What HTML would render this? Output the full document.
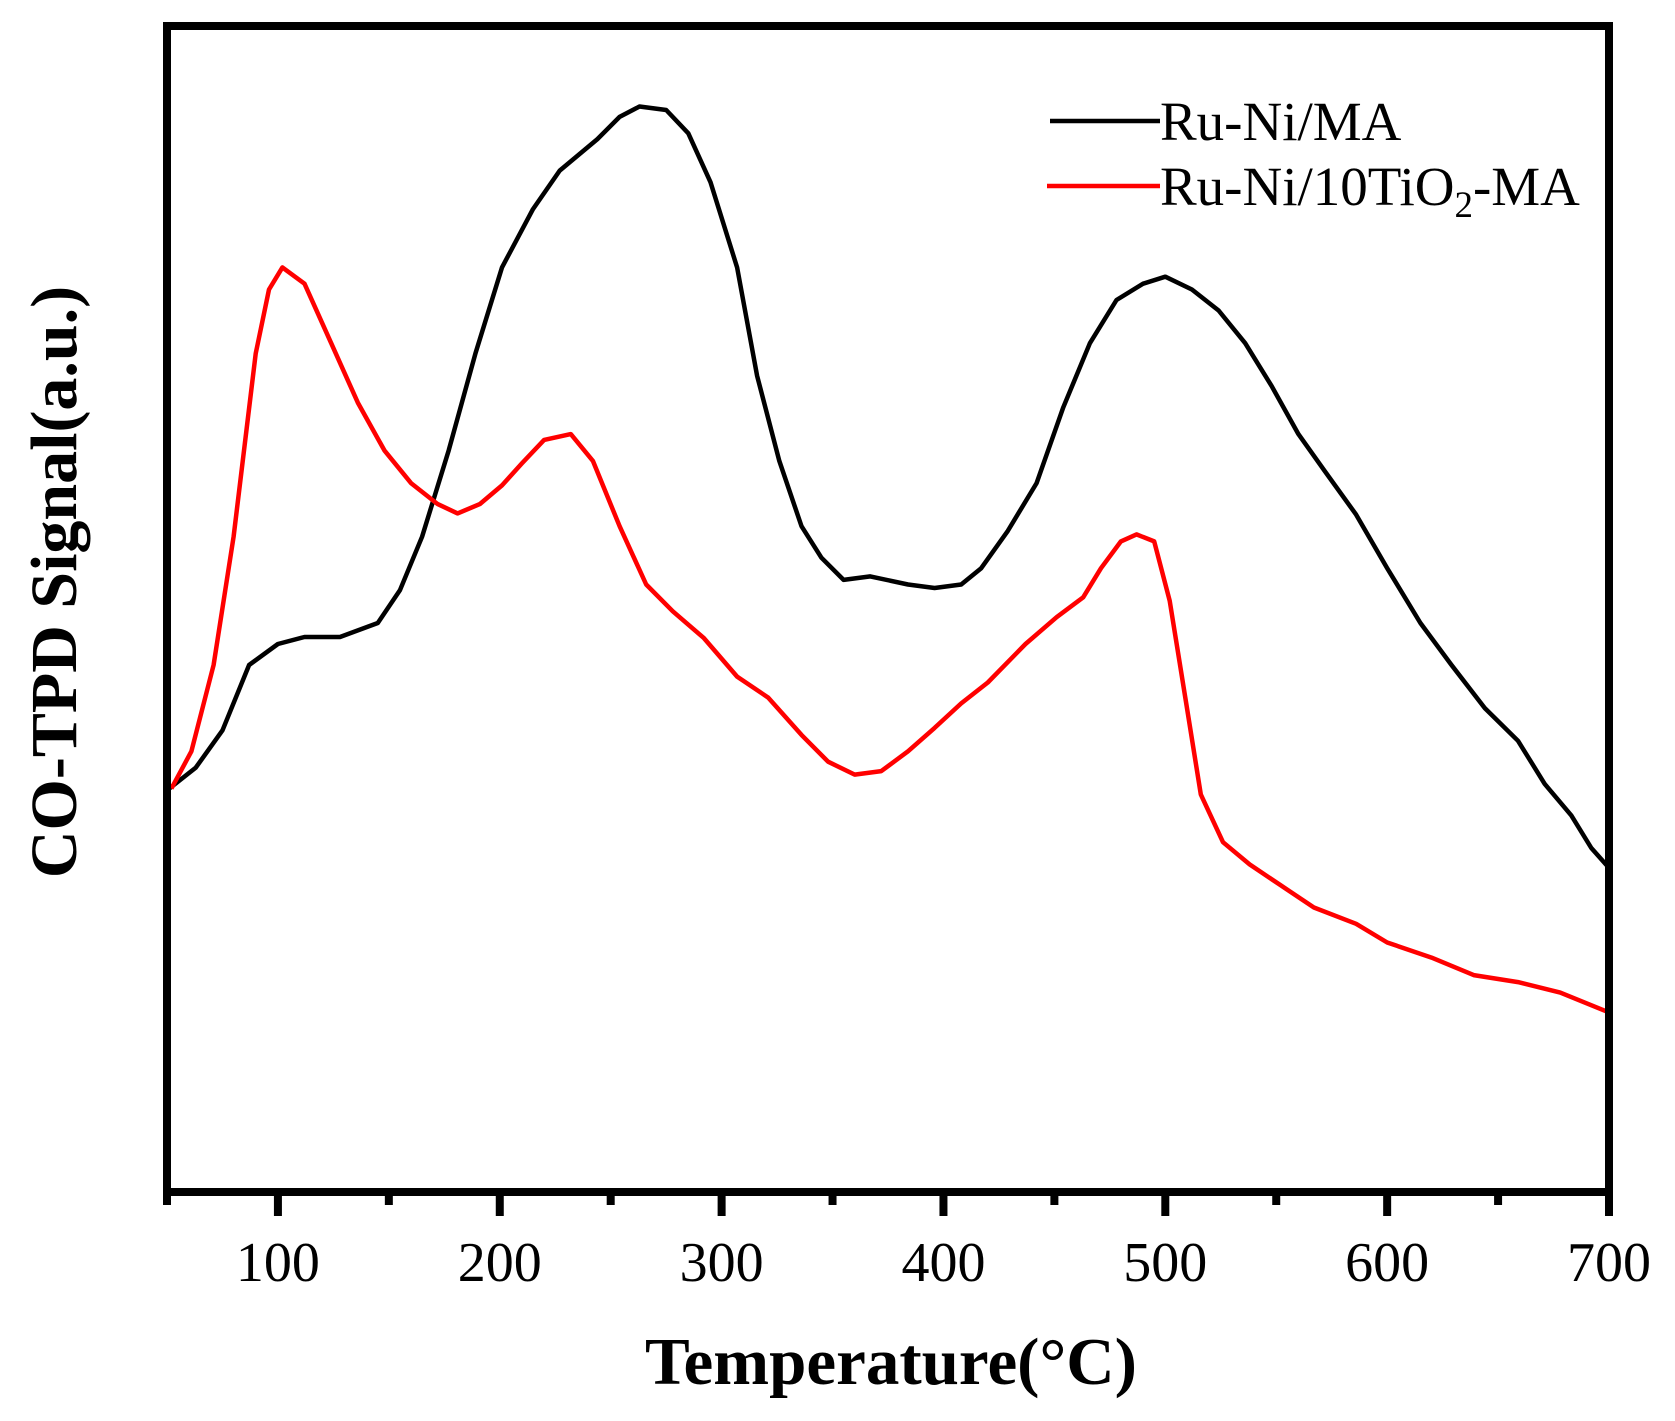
<!DOCTYPE html>
<html><head><meta charset="utf-8"><style>
html,body{margin:0;padding:0;background:#fff;}
svg{display:block;font-family:"Liberation Serif",serif;}
</style></head><body>
<svg id="chart" width="1675" height="1421" viewBox="0 0 1675 1421" xmlns="http://www.w3.org/2000/svg">
<g id="plot"></g>
<text x="891" y="1384" text-anchor="middle" font-size="67" font-weight="bold">Temperature(°C)</text>
<text transform="translate(76,582) rotate(-90)" text-anchor="middle" font-size="66" font-weight="bold">CO-TPD Signal(a.u.)</text>
<g>
<line x1="1050" y1="121" x2="1160" y2="121" stroke="#000" stroke-width="4.5"/>
<text x="1160" y="140" font-size="55">Ru-Ni/MA</text>
<line x1="1047" y1="186" x2="1160" y2="186" stroke="#f00" stroke-width="4.5"/>
<text x="1160" y="205" font-size="55">Ru-Ni/10TiO<tspan font-size="37" dy="12">2</tspan><tspan dy="-12">-MA</tspan></text>
</g>
</svg>
<script>
const blackT=[51,63,75,87,100,112,128,145,155,165,177,189,201,215,227,244,254,263,275,285,295,307,316,326,336,345,355,367,384,396,408,417,429,442,454,466,478,490,500,512,524,536,548,560,572,586,600,615,629,644,659,671,683,692,700];
const blackV=[34.6,36.4,39.6,45.2,47.0,47.6,47.6,48.8,51.6,56.2,63.6,71.9,79.3,84.3,87.6,90.3,92.2,93.1,92.8,90.8,86.6,79.3,70.0,62.7,57.1,54.4,52.5,52.8,52.1,51.8,52.1,53.5,56.7,60.8,67.3,72.8,76.5,77.9,78.5,77.4,75.6,72.8,69.1,65.0,61.8,58.1,53.5,48.8,45.2,41.5,38.7,35.0,32.3,29.5,27.8];
const redT=[52,61,71,80,90,96,102,112,124,136,148,160,172,181,191,201,210,220,232,242,254,266,278,292,307,321,336,348,360,372,384,396,408,420,437,451,463,471,480,487,495,502,509,516,526,538,552,567,586,600,620,639,659,678,700];
const redV=[34.6,37.8,45.2,56.2,71.9,77.4,79.3,77.9,72.8,67.7,63.6,60.8,59.0,58.2,59.0,60.6,62.5,64.5,65.0,62.7,57.1,52.1,49.8,47.5,44.2,42.4,39.2,36.9,35.8,36.1,37.8,39.8,41.9,43.7,47.0,49.3,51.0,53.5,55.8,56.4,55.8,50.7,42.4,34.1,30.0,28.1,26.3,24.4,23.0,21.4,20.1,18.6,18.0,17.1,15.4];
const xTicks=[100,200,300,400,500,600,700];
const xMinor=[50,150,250,350,450,550,650];
const NS="http://www.w3.org/2000/svg";
const L=167,R=1609,T=26,B=1192;
function xs(t){return L+(t-50)/650*(R-L);}
function ys(v){return B-v/100*(B-T);}
const g=document.getElementById('plot');
function mk(tag,attrs){const e=document.createElementNS(NS,tag);for(const k in attrs)e.setAttribute(k,attrs[k]);g.appendChild(e);return e;}
function series(ts,vs,color,name){
  let d='';ts.forEach((t,i)=>{d+=(i?'L':'M')+xs(t).toFixed(1)+','+ys(vs[i]).toFixed(1);});
  const p=mk('path',{d:d,fill:'none',stroke:color,'stroke-width':4.5,'stroke-linejoin':'round'});
  
  
}
series(blackT,blackV,'#000','series-ru-ni-ma');
series(redT,redV,'#f00','series-ru-ni-tio2-ma');
const fr=mk('rect',{x:L,y:T,width:R-L,height:B-T,fill:'none',stroke:'#000','stroke-width':8});


xTicks.forEach(t=>{
  const l=mk('line',{x1:xs(t),y1:B,x2:xs(t),y2:B+24,stroke:'#000','stroke-width':8});
  
  
  const tx=mk('text',{x:xs(t),y:1281,'text-anchor':'middle','font-size':56});
  tx.textContent=t;
  
  
});
xMinor.forEach(t=>{
  const l=mk('line',{x1:xs(t),y1:B,x2:xs(t),y2:B+13,stroke:'#000','stroke-width':8});
  
  
});
</script>
</body></html>
